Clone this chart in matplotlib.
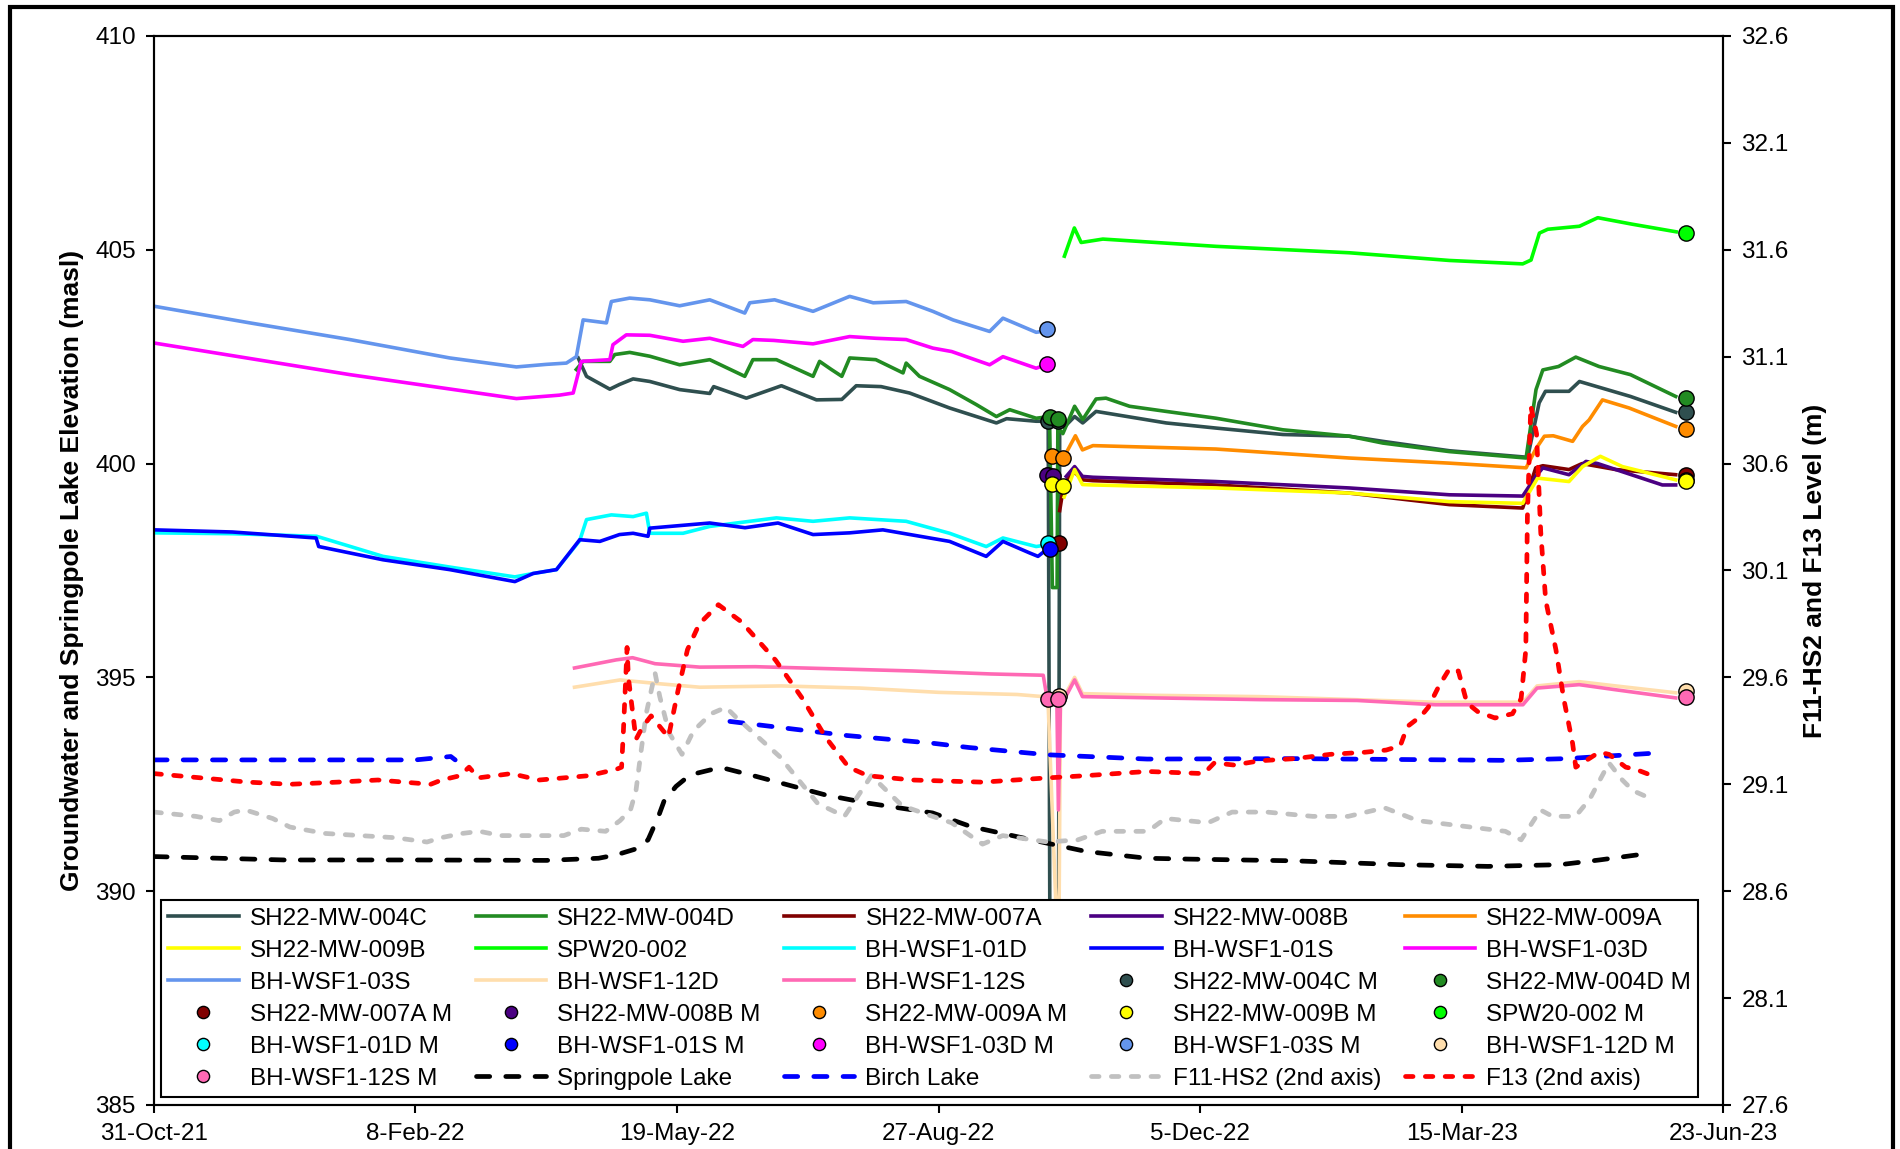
"""Groundwater and lake elevations with F11-HS2 / F13 levels on a second axis."""

import matplotlib

matplotlib.use("Agg")
import matplotlib.dates as mdates
import matplotlib.pyplot as plt
import numpy as np
import pandas as pd
from matplotlib.patches import Rectangle

plt.rcParams["font.family"] = ["Liberation Sans", "DejaVu Sans"]
plt.rcParams["font.size"] = 17.5

START = pd.Timestamp("2021-10-31")
END = pd.Timestamp("2023-06-23")

# ---- logger series (days since 31-Oct-21, elevation masl) ----
D_004C = [162.2, 165.4, 174.3, 178, 183.2, 189.6, 201, 212.5, 214, 226.5, 239.9, 253.3, 263, 268.5, 278,
          288.9, 304.2, 322.1, 326, 337.3, 341.9, 342.6, 345.8, 346.3, 348, 352, 355.1, 360.2, 387, 406.1,
          431.6, 457, 469.8, 495.3, 524.6, 525.3, 529.6, 532, 541, 545, 564.5, 581.8]
V_004C = [402.47, 402.04, 401.74, 401.85, 401.98, 401.92, 401.73, 401.64, 401.8, 401.53, 401.82, 401.49, 401.5,
          401.82, 401.8, 401.65, 401.30, 400.95, 401.05, 400.99, 400.99, 388.0, 388.0, 400.9, 400.85, 401.1,
          400.95, 401.22, 400.95, 400.83, 400.68, 400.64, 400.52, 400.3, 400.15, 400.17, 401.42, 401.69,
          401.69, 401.92, 401.57, 401.20]

D_004D = [161.5, 164.1, 174.3, 176.2, 181.9, 189.6, 201, 212.5, 225.9, 229, 238, 252, 254.5, 259, 263, 266,
          276, 286.4, 287.6, 292.7, 304.2, 314.4, 322.1, 327.2, 337.3, 342.4, 343.5, 345.3, 345.6, 346.2,
          347.5, 352, 355.1, 360.2, 364, 373, 387, 406.1, 431.6, 457, 469.8, 495.3, 524.6, 528.4, 531, 537,
          543.6, 552.5, 564.5, 581.8]
V_004D = [402.2, 402.39, 402.39, 402.55, 402.6, 402.51, 402.31, 402.43, 402.04, 402.43, 402.43, 402.04, 402.39,
          402.2, 402.04, 402.47, 402.43, 402.12, 402.35, 402.04, 401.73, 401.38, 401.10, 401.26, 401.06,
          401.10, 397.1, 397.1, 401.04, 400.79, 400.7, 401.34, 401.03, 401.51, 401.53, 401.34, 401.22, 401.06,
          400.79, 400.64, 400.48, 400.28, 400.13, 401.73, 402.19, 402.27, 402.49, 402.27, 402.08, 401.57]

D_007A = [346.3, 348, 352, 355, 359, 406, 457, 495.3, 523.3, 528.3, 531, 541, 546, 558.9, 581.8]
V_007A = [398.9, 399.55, 399.8, 399.62, 399.6, 399.5, 399.31, 399.04, 398.96, 399.9, 399.95, 399.86, 400.0,
          399.86, 399.74]

D_008B = [348.8, 352, 355, 359, 406, 457, 495.3, 523.3, 528.3, 531, 541, 547.5, 552, 576.7, 581.8]
V_008B = [399.70, 399.93, 399.70, 399.68, 399.58, 399.43, 399.27, 399.24, 399.7, 399.90, 399.74, 400.05,
          400.0, 399.50, 399.5]

D_009A = [349.4, 352.3, 355, 359, 406, 457, 495.3, 524.6, 528.4, 531.6, 535, 542.4, 546.2, 548.7, 553.8,
          564, 581.8]
V_009A = [400.32, 400.65, 400.32, 400.42, 400.34, 400.13, 400.01, 399.90, 400.35, 400.64, 400.65, 400.52,
          400.87, 401.02, 401.49, 401.3, 400.87]

D_009B = [348, 352, 355, 359, 406, 457, 495.3, 523.3, 529, 535, 541, 546.2, 553, 561.4, 581.8]
V_009B = [399.22, 399.86, 399.51, 399.5, 399.43, 399.31, 399.11, 399.07, 399.66, 399.62, 399.58, 399.93,
          400.17, 399.93, 399.62]

D_SPW = [348.1, 351.9, 354.5, 362.8, 406.1, 457, 495.3, 523.3, 526.5, 529.7, 532.9, 545, 552, 565, 582]
V_SPW = [404.85, 405.51, 405.17, 405.25, 405.08, 404.93, 404.75, 404.67, 404.76, 405.39, 405.48, 405.55,
         405.75, 405.6, 405.42]

D_01D = [0, 30, 62.2, 87.6, 113.1, 138, 145, 153.9, 162.8, 165.4, 174.9, 183.2, 188.3, 189.6, 202.3, 212.5,
         238, 252, 266, 287.6, 304.2, 318.2, 324.6, 337.3, 341.5]
V_01D = [398.38, 398.36, 398.3, 397.83, 397.58, 397.35, 397.43, 397.52, 398.2, 398.69, 398.8, 398.76, 398.84,
         398.37, 398.37, 398.53, 398.73, 398.65, 398.73, 398.65, 398.37, 398.06, 398.26, 398.06, 398.1]

D_01S = [0, 30, 62, 63, 87.6, 113.1, 138, 145, 153.9, 162.8, 170.5, 178, 183.2, 188.9, 189.6, 212.5, 226,
         238.6, 252, 266, 278.7, 304.2, 318.2, 324.6, 334.8, 338, 341.5]
V_01S = [398.45, 398.4, 398.26, 398.06, 397.75, 397.52, 397.24, 397.43, 397.52, 398.22, 398.18, 398.34,
         398.37, 398.3, 398.49, 398.61, 398.5, 398.61, 398.34, 398.38, 398.45, 398.18, 397.83, 398.18, 397.91,
         397.83, 398.0]

D_03D = [0, 74.9, 138.6, 155, 160.3, 163.4, 174.3, 175.5, 180.6, 189.6, 202.3, 212.5, 225.2, 229, 237, 252,
         266, 276, 287.6, 297.8, 305, 319.5, 324.6, 337.3, 340.5]
V_03D = [402.82, 402.08, 401.52, 401.60, 401.65, 402.39, 402.43, 402.78, 403.01, 403.0, 402.86, 402.93,
         402.74, 402.9, 402.88, 402.8, 402.97, 402.93, 402.9, 402.70, 402.62, 402.31, 402.5, 402.23, 402.3]

D_03S = [0, 36.7, 74.9, 113.1, 138.6, 150, 157.7, 161.5, 164.1, 173, 174.9, 181.9, 189.6, 201, 212.5, 225.9,
         227.8, 237.3, 252, 266, 275, 287.6, 297.8, 305.5, 319.5, 324.6, 337.3, 340.5]
V_03S = [403.68, 403.29, 402.90, 402.47, 402.26, 402.32, 402.35, 402.5, 403.36, 403.29, 403.79, 403.87,
         403.83, 403.69, 403.83, 403.52, 403.76, 403.83, 403.56, 403.91, 403.76, 403.79, 403.56, 403.36,
         403.09, 403.40, 403.07, 403.1]

D_12D = [160.8, 178.2, 191.6, 208.7, 240, 270, 300, 330, 340, 341.8, 345.9, 346.6, 348, 352, 355, 382.7,
         422.8, 489.9, 523.4, 528.8, 544.9, 558.9, 581.8]
V_12D = [394.77, 394.94, 394.86, 394.77, 394.8, 394.75, 394.65, 394.6, 394.55, 394.5, 388.0, 394.5, 394.55,
         395.0, 394.62, 394.58, 394.55, 394.42, 394.42, 394.8, 394.9, 394.8, 394.64]

D_12S = [160.8, 176.8, 183, 191.6, 208.7, 230, 260, 290, 320, 340, 341.5, 345.2, 345.8, 346.6, 348, 352, 355,
         382.7, 422.8, 460, 489.9, 523.4, 528.8, 544.9, 558.9, 581.8]
V_12S = [395.22, 395.41, 395.46, 395.32, 395.24, 395.25, 395.2, 395.15, 395.08, 395.05, 394.5, 394.5, 391.9,
         394.45, 394.48, 394.94, 394.55, 394.52, 394.48, 394.46, 394.36, 394.36, 394.75, 394.83, 394.71,
         394.52]

# ---- lakes (masl) ----
D_SPRING = [0, 50, 100, 150, 170, 176.8, 184.9, 188.9, 192.9, 195, 199.6, 205, 213, 219, 230.5, 256.8, 272.9,
            297.7, 312.4, 341.7, 356.3, 379.7, 396, 436, 476.5, 510, 537.6, 552.6, 568.5]
V_SPRING = [390.81, 390.73, 390.73, 390.72, 390.77, 390.85, 391.0, 391.2, 391.75, 392.1, 392.45, 392.72,
            392.84, 392.86, 392.68, 392.25, 392.06, 391.83, 391.51, 391.12, 390.93, 390.77, 390.75, 390.71,
            390.62, 390.58, 390.62, 390.73, 390.86]

D_BIRCH = [0, 50, 100, 113.5, 115.2, 160, 220.2, 265, 297.7, 311.6, 341.7, 379.7, 436, 476, 516, 540, 574.2]
V_BIRCH = [393.07, 393.07, 393.07, 393.15, 393.07, np.nan, 393.97, 393.64, 393.46, 393.36, 393.19, 393.09,
           393.1, 393.08, 393.06, 393.1, 393.23]

# ---- 2nd axis (m) ----
D_F11 = [0, 16, 25, 30.7, 35, 45.4, 52, 65.5, 79, 92.4, 104.4, 109.7, 117.8, 124.5, 132.6, 146, 156.7, 163.4,
         172.7, 178.2, 182.2, 184.3, 186.2, 188.2, 191.6, 193.4, 197, 201.9, 206.3, 213, 218.7, 222, 239.2,
         253.8, 264, 274.3, 286, 297.7, 305, 316.8, 324.5, 341.7, 353.2, 362.5, 380, 386.7, 403, 412.2, 425.5,
         443, 456.6, 470.5, 483.2, 503.3, 516.7, 522.7, 530.1, 534.7, 543.5, 548.9, 556.3, 561.4, 565.5, 571]
V_F11 = [28.97, 28.95, 28.93, 28.97, 28.98, 28.94, 28.90, 28.87, 28.86, 28.85, 28.83, 28.85, 28.87, 28.88,
         28.86, 28.86, 28.86, 28.89, 28.88, 28.93, 28.98, 29.07, 29.25, 29.43, 29.62, 29.51, 29.34, 29.24,
         29.35, 29.43, 29.46, 29.42, 29.23, 29.01, 28.95, 29.14, 29.00, 28.95, 28.92, 28.82, 28.86, 28.83,
         28.84, 28.88, 28.88, 28.94, 28.92, 28.97, 28.97, 28.95, 28.95, 28.99, 28.93, 28.90, 28.88, 28.84,
         28.98, 28.95, 28.95, 29.03, 29.20, 29.12, 29.07, 29.04]

D_F13 = [0, 36, 52, 70, 85.6, 105.8, 110, 117, 120.5, 124, 136.6, 147.3, 166.1, 176.8, 178.8, 179.5, 180.9,
         181.4, 184.3, 186.9, 190.1, 196.7, 200.4, 204, 208.5, 215.8, 224.6, 237.7, 248, 256.8, 265.6, 272.9,
         290, 316.8, 341.7, 355.8, 379.7, 401.4, 405.4, 413, 422.8, 436.2, 449.7, 463.1, 471.1, 476.5, 479.2,
         484.5, 487.2, 491.3, 495.3, 498.7, 502, 506.1, 512.7, 519.4, 522.7, 524.5, 525.1, 526.4, 528.6,
         530.2, 532.1, 536, 539, 542.4, 543.6, 548.7, 552.5, 556.3, 562.7, 566.5, 572.9]
V_F13 = [29.15, 29.11, 29.10, 29.11, 29.12, 29.10, 29.12, 29.14, 29.18, 29.13, 29.15, 29.12, 29.14, 29.17,
         29.18, 29.35, 29.74, 29.60, 29.31, 29.37, 29.42, 29.32, 29.54, 29.73, 29.85, 29.94, 29.86, 29.68,
         29.50, 29.32, 29.18, 29.14, 29.12, 29.11, 29.13, 29.14, 29.16, 29.15, 29.20, 29.19, 29.21, 29.22,
         29.24, 29.25, 29.26, 29.28, 29.37, 29.42, 29.46, 29.56, 29.64, 29.63, 29.48, 29.44, 29.41, 29.43,
         29.50, 29.73, 30.35, 30.87, 30.74, 30.28, 29.96, 29.73, 29.50, 29.29, 29.18, 29.22, 29.25, 29.24,
         29.18, 29.17, 29.14]

# ---- manual measurements (days, masl) ----
M_004C = ([342.0, 345.8, 585.6], [400.99, 400.99, 401.20])
M_004D = ([342.4, 345.6, 585.6], [401.10, 401.04, 401.53])
M_007A = ([341.8, 346.0, 585.6], [399.74, 398.15, 399.74])
M_008B = ([341.4, 343.9, 585.6], [399.74, 399.70, 399.62])
M_009A = ([343.3, 347.5, 585.6], [400.17, 400.13, 400.81])
M_009B = ([343.3, 347.5, 585.6], [399.53, 399.47, 399.60])
M_SPW = ([585.6], [405.40])
M_01D = ([341.8], [398.14])
M_01S = ([342.6], [398.0])
M_03D = ([341.5], [402.33])
M_03S = ([341.5], [403.15])
M_12D = ([345.9, 585.6], [394.57, 394.67])
M_12S = ([342.0, 345.6, 585.6], [394.5, 394.5, 394.55])

WELLS = [
    ("SH22-MW-004C", "#2F4F4F", D_004C, V_004C, M_004C),
    ("SH22-MW-004D", "#228B22", D_004D, V_004D, M_004D),
    ("SH22-MW-007A", "#800000", D_007A, V_007A, M_007A),
    ("SH22-MW-008B", "#4B0082", D_008B, V_008B, M_008B),
    ("SH22-MW-009A", "#FF8C00", D_009A, V_009A, M_009A),
    ("SH22-MW-009B", "#FFFF00", D_009B, V_009B, M_009B),
    ("SPW20-002", "#00FF00", D_SPW, V_SPW, M_SPW),
    ("BH-WSF1-01D", "#00FFFF", D_01D, V_01D, M_01D),
    ("BH-WSF1-01S", "#0000FF", D_01S, V_01S, M_01S),
    ("BH-WSF1-03D", "#FF00FF", D_03D, V_03D, M_03D),
    ("BH-WSF1-03S", "#6495ED", D_03S, V_03S, M_03S),
    ("BH-WSF1-12D", "#FFDEAD", D_12D, V_12D, M_12D),
    ("BH-WSF1-12S", "#FF69B4", D_12S, V_12S, M_12S),
]


def when(days):
    return START + pd.to_timedelta(days, unit="D")


fig = plt.figure(figsize=(19, 11.49), dpi=100)
ax = fig.add_axes([0.081, 0.0383, 0.826, 0.9304])
ax2 = ax.twinx()

line_handles, marker_handles = [], []
for name, col, d, v, _ in WELLS:
    (h,) = ax.plot(when(d), v, color=col, lw=2.6, label=name, solid_joinstyle="round")
    line_handles.append(h)
for name, col, _, _, (md, mv) in WELLS:
    (h,) = ax.plot(when(md), mv, ls="none", marker="o", ms=11, mfc=col, mec="black", mew=1.0,
                   label=name + " M", zorder=4)
    marker_handles.append(h)

(h_spring,) = ax.plot(when(D_SPRING), V_SPRING, color="black", lw=3.4, dashes=(2.8, 3.4),
                      dash_capstyle="round", label="Springpole Lake")
(h_birch,) = ax.plot(when(D_BIRCH), V_BIRCH, color="#0000FF", lw=3.4, dashes=(2.8, 3.4),
                     dash_capstyle="round", label="Birch Lake")
(h_f11,) = ax2.plot(when(D_F11), V_F11, color="#C0C0C0", lw=3.4, dashes=(1.6, 2.6),
                    dash_capstyle="round", label="F11-HS2 (2nd axis)")
(h_f13,) = ax2.plot(when(D_F13), V_F13, color="#FF0000", lw=3.4, dashes=(1.6, 2.6),
                    dash_capstyle="round", label="F13 (2nd axis)")

# axes, ticks
ax.set_xlim(START, END)
ax.set_ylim(385, 410)
ax.set_yticks(np.arange(385, 411, 5))
ax2.set_ylim(27.6, 32.6)
ax2.set_yticks(np.round(np.arange(27.6, 32.61, 0.5), 1))
ax2.yaxis.set_major_formatter(matplotlib.ticker.FormatStrFormatter("%.1f"))
ax.set_xticks(pd.date_range(START, periods=7, freq="100D"))
ax.xaxis.set_major_formatter(mdates.DateFormatter("%-d-%b-%y"))
for a in (ax, ax2):
    a.tick_params(direction="out", length=6, width=1.5, labelsize=17.5, pad=7)
    for s in a.spines.values():
        s.set_linewidth(1.5)
ax.set_ylabel("Groundwater and Springpole Lake Elevation (masl)", fontweight="bold", fontsize=19,
              labelpad=8)
ax2.set_ylabel("F11-HS2 and F13 Level (m)", fontweight="bold", fontsize=19, labelpad=10)

# legend laid out row by row, 5 columns
items = line_handles + marker_handles + [h_spring, h_birch, h_f11, h_f13]
ncol, nrow = 5, 6
ordered = [items[r * ncol + c] for c in range(ncol) for r in range(nrow)]
leg = ax2.legend(handles=ordered, labels=[h.get_label() for h in ordered], ncol=ncol, loc="lower left",
                 bbox_to_anchor=(0.0045, 0.0075, 0.9796, 0.19), mode="expand", fontsize=17.5,
                 frameon=True, fancybox=False, edgecolor="black", framealpha=1, markerscale=0.8,
                 handlelength=2.9, handletextpad=0.45, labelspacing=0.41, borderpad=0.3,
                 borderaxespad=0)
leg.get_frame().set_linewidth(1.5)

# outer chart border
fig.patches.append(Rectangle((0.0053, -0.02), 0.991, 1.0139, transform=fig.transFigure, fill=False,
                             lw=3, edgecolor="black"))

fig.savefig("out.png", dpi=100)
